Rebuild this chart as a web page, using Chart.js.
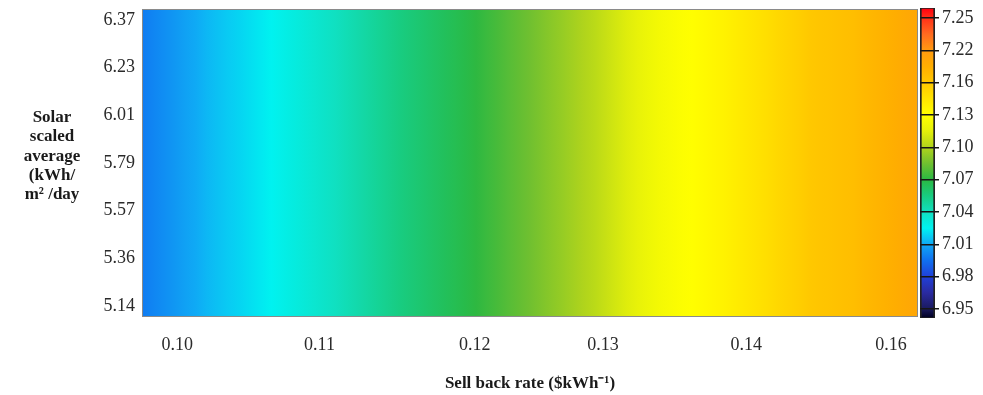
<!DOCTYPE html>
<html>
<head>
<meta charset="utf-8">
<script src="https://cdn.jsdelivr.net/npm/chart.js@4.4.0/dist/chart.umd.min.js"></script>
<style>
  html, body { margin: 0; padding: 0; background: #fff; }
  #wrap { position: relative; width: 983px; height: 395px; }
  canvas { position: absolute; left: 0; top: 0; }
  #ytitle {
    position: absolute; left: 2px; top: 107px; width: 100px;
    text-align: center; font: bold 17px "Liberation Serif", serif;
    line-height: 19.3px; color: #1a1a1a;
  }
</style>
</head>
<body>
<div id="wrap">
  <canvas id="heat" width="983" height="395"></canvas>
  <canvas id="bar" width="983" height="395"></canvas>
  <div id="ytitle">Solar<br>scaled<br>average<br>(kWh/<br>m² /day</div>
</div>
<script>
const sellBackRate = [0.0970, 0.1025, 0.1080, 0.1135, 0.1190, 0.1245, 0.1300, 0.1355, 0.1410, 0.1465, 0.1520, 0.1575, 0.1630];
const cellValue = [6.998, 7.013, 7.025, 7.040, 7.055, 7.068, 7.085, 7.103, 7.124, 7.137, 7.154, 7.172, 7.202];

// x tick labels and where they sit on the sell back rate axis
const xTickValues = [0.1000, 0.1121, 0.1253, 0.1362, 0.1484, 0.1607];
const xTickLabels = ["0.10", "0.11", "0.12", "0.13", "0.14", "0.16"];

// y tick labels, bottom to top (evenly spaced rows)
const yTickLabels = ["5.14", "5.36", "5.57", "5.79", "6.01", "6.23", "6.37"];

// colour bar labels, bottom to top (evenly spaced)
const cbLabels = ["6.95", "6.98", "7.01", "7.04", "7.07", "7.10", "7.13", "7.16", "7.22", "7.25"];

// colour map, position measured in colour bar label steps
const cmap = [
  [-0.3, "#000020"], [0, "#1a1a5e"], [0.5, "#2a2aa0"], [1, "#2040d8"], [1.5, "#1070f0"],
  [2, "#10a8f5"], [2.5, "#00f2f0"], [3, "#10e0c0"], [3.5, "#18cc80"], [4, "#2ab842"],
  [4.5, "#70c030"], [5, "#b0d41c"], [5.5, "#e4f00a"], [6, "#ffff00"], [6.5, "#ffe400"],
  [7, "#ffc800"], [7.5, "#ffae00"], [8, "#ff9a10"], [8.5, "#ff6a20"], [9, "#ff3018"], [9.3, "#ff0010"]
];

const serif = "Liberation Serif";

function hexRgb(h) {
  return [parseInt(h.substr(1, 2), 16), parseInt(h.substr(3, 2), 16), parseInt(h.substr(5, 2), 16)];
}

function colorAtIndex(p) {
  if (p <= cmap[0][0]) return cmap[0][1];
  for (let i = 1; i < cmap.length; i++) {
    if (p <= cmap[i][0]) {
      const t = (p - cmap[i - 1][0]) / (cmap[i][0] - cmap[i - 1][0]);
      const a = hexRgb(cmap[i - 1][1]), b = hexRgb(cmap[i][1]);
      const c = a.map((v, k) => Math.round(v + (b[k] - v) * t));
      return "rgb(" + c.join(",") + ")";
    }
  }
  return cmap[cmap.length - 1][1];
}

// value -> position on the colour bar
function valueToIndex(v) {
  const vals = cbLabels.map(Number);
  if (v <= vals[0]) return (v - vals[0]) / (vals[1] - vals[0]);
  for (let i = 1; i < vals.length; i++) {
    if (v <= vals[i]) return i - 1 + (v - vals[i - 1]) / (vals[i] - vals[i - 1]);
  }
  const n = vals.length - 1;
  return n + (v - vals[n]) / (vals[n] - vals[n - 1]);
}

function colorAt(v) {
  return colorAtIndex(valueToIndex(v));
}

let heatCache = null;
function heatGradient(chart) {
  const area = chart.chartArea;
  if (!area || !chart.scales.x) return colorAt(cellValue[0]);
  const key = area.left + "," + area.right;
  if (heatCache && heatCache.key === key) return heatCache.g;
  const xs = chart.scales.x;
  const w = area.right - area.left;
  const g = chart.ctx.createLinearGradient(area.left, 0, area.right, 0);
  const n = sellBackRate.length;
  for (let i = 0; i < n; i++) {
    const steps = i < n - 1 ? 6 : 1;
    for (let s = 0; s < steps; s++) {
      const t = s / steps;
      const r = i < n - 1 ? sellBackRate[i] + (sellBackRate[i + 1] - sellBackRate[i]) * t : sellBackRate[i];
      const v = i < n - 1 ? cellValue[i] + (cellValue[i + 1] - cellValue[i]) * t : cellValue[i];
      const off = Math.min(1, Math.max(0, (xs.getPixelForValue(r) - area.left) / w));
      g.addColorStop(off, colorAt(v));
    }
  }
  heatCache = { key: key, g: g };
  return g;
}

function barGradient(chart) {
  const area = chart.chartArea;
  if (!area || !chart.scales.y) return "#888";
  const ys = chart.scales.y;
  const g = chart.ctx.createLinearGradient(0, area.bottom, 0, area.top);
  const h = area.bottom - area.top;
  for (const [p, c] of cmap) {
    const off = Math.min(1, Math.max(0, (area.bottom - ys.getPixelForValue(p)) / h));
    g.addColorStop(off, c);
  }
  return g;
}

// thin frame round the plot area
const frame = {
  id: "frame",
  afterDatasetsDraw(chart) {
    const { ctx, chartArea: a } = chart;
    ctx.save();
    ctx.strokeStyle = "#8a8a8a";
    ctx.lineWidth = 1;
    ctx.strokeRect(a.left + 0.5, a.top + 0.5, a.right - a.left - 1, a.bottom - a.top - 1);
    ctx.restore();
  }
};

// labels sit inside the axis range, so no extra room is needed above/below
function noPad(s) {
  s.paddingTop = 0;
  s.paddingBottom = 0;
}

const yMin = -0.23, yMax = 6.23;

new Chart(document.getElementById("heat"), {
  type: "bar",
  data: {
    datasets: [{
      data: sellBackRate.map(r => ({ x: r, y: [yMin, yMax] })),
      backgroundColor: ctx => heatGradient(ctx.chart),
      borderWidth: 0,
      barPercentage: 1.04,
      categoryPercentage: 1,
      grouped: false
    }]
  },
  options: {
    responsive: false,
    animation: false,
    layout: { padding: { left: 0, top: 9, right: 65, bottom: 0 } },
    plugins: { legend: { display: false }, tooltip: { enabled: false } },
    scales: {
      x: {
        type: "linear",
        min: 0.097,
        max: 0.163,
        offset: false,
        grid: { display: false, drawTicks: false },
        border: { display: false },
        afterBuildTicks: s => { s.ticks = xTickValues.map(v => ({ value: v })); },
        afterFit: s => { s.height = 78; s.paddingLeft = 0; s.paddingRight = 0; },
        ticks: {
          autoSkip: false, maxRotation: 0, padding: 17, color: "#2a2a2a",
          font: { family: serif, size: 18 },
          callback: (v, i) => xTickLabels[i]
        },
        title: {
          display: true, text: "Sell back rate ($kWh\u207B\u00B9)", color: "#1a1a1a",
          font: { family: serif, size: 17, weight: "bold" },
          padding: { top: 0, bottom: 1 }
        }
      },
      y: {
        type: "linear",
        min: yMin,
        max: yMax,
        grid: { display: false, drawTicks: false },
        border: { display: false },
        afterBuildTicks: s => { s.ticks = yTickLabels.map((_, i) => ({ value: i })); },
        afterFit: s => { s.width = 142; noPad(s); },
        ticks: {
          autoSkip: false, padding: 7, color: "#2a2a2a",
          font: { family: serif, size: 18 },
          callback: (v, i) => yTickLabels[i]
        }
      }
    }
  },
  plugins: [frame]
});

new Chart(document.getElementById("bar"), {
  type: "bar",
  data: {
    labels: [""],
    datasets: [{
      data: [[-0.28, 9.31]],
      backgroundColor: ctx => barGradient(ctx.chart),
      borderColor: "#222",
      borderWidth: { left: 2, right: 2, top: 1, bottom: 1 },
      borderSkipped: false,
      barPercentage: 1,
      categoryPercentage: 1
    }]
  },
  options: {
    responsive: false,
    animation: false,
    layout: { padding: { left: 920, top: 8, right: 0, bottom: 77 } },
    plugins: { legend: { display: false }, tooltip: { enabled: false } },
    scales: {
      x: { display: false },
      y: {
        position: "right",
        min: -0.28,
        max: 9.31,
        grid: { color: "#161616", lineWidth: 1.5, tickLength: 4, z: 1 },
        border: { display: false },
        afterBuildTicks: s => { s.ticks = cbLabels.map((_, i) => ({ value: i })); },
        afterFit: s => { s.width = 48; noPad(s); },
        ticks: {
          autoSkip: false, padding: 3, color: "#2a2a2a",
          font: { family: serif, size: 18 },
          callback: (v, i) => cbLabels[i]
        }
      }
    }
  }
});
</script>
</body>
</html>
